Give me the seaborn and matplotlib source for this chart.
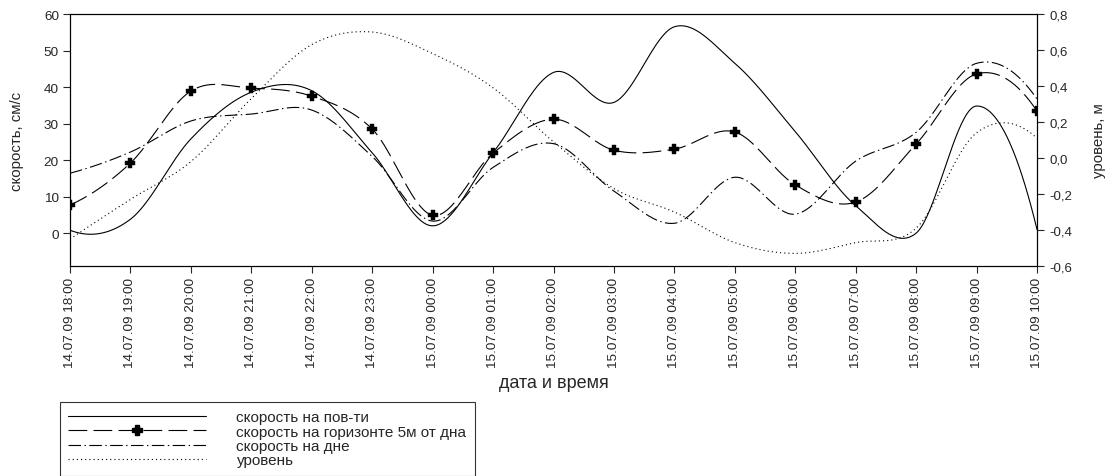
import numpy as np
import matplotlib
matplotlib.use("Agg")
import matplotlib.pyplot as plt
import seaborn as sns
from matplotlib.lines import Line2D
from matplotlib.ticker import FuncFormatter, FixedLocator

# ---------------- data ----------------
time_labels = ["14.07.09 18:00", "14.07.09 19:00", "14.07.09 20:00", "14.07.09 21:00",
               "14.07.09 22:00", "14.07.09 23:00", "15.07.09 00:00", "15.07.09 01:00",
               "15.07.09 02:00", "15.07.09 03:00", "15.07.09 04:00", "15.07.09 05:00",
               "15.07.09 06:00", "15.07.09 07:00", "15.07.09 08:00", "15.07.09 09:00",
               "15.07.09 10:00"]
speed_surface = [0.8, 3.8, 25.8, 38.6, 39.0, 22.0, 2.0, 22.0, 44.0, 35.8, 56.5, 46.5,
                 27.8, 7.5, 0.0, 34.8, 1.0]
speed_5m = [7.7, 19.2, 38.9, 39.7, 37.5, 28.5, 4.9, 21.9, 31.2, 22.7, 23.0, 27.7,
            13.2, 8.5, 24.4, 43.6, 33.4]
speed_bottom = [16.4, 22.2, 30.7, 32.6, 33.7, 21.0, 3.3, 18.0, 24.5, 11.5, 2.7, 15.3,
                5.2, 19.7, 27.6, 46.5, 36.7]
level = [-0.45, -0.23, -0.02, 0.33, 0.63, 0.70, 0.58, 0.39, 0.09, -0.17, -0.30, -0.47,
         -0.53, -0.47, -0.39, 0.14, 0.11]
legend_labels = ["скорость на пов-ти", "скорость на горизонте 5м от дна",
                 "скорость на дне", "уровень"]


def smooth(y, n=40):
    """Cubic Hermite (Catmull-Rom) rendering of a smoothed line through the points."""
    y = np.asarray(y, float)
    N = len(y)
    m = np.empty(N)
    m[1:-1] = (y[2:] - y[:-2]) / 2
    m[0] = (-3 * y[0] + 4 * y[1] - y[2]) / 2
    m[-1] = (3 * y[-1] - 4 * y[-2] + y[-3]) / 2
    t = np.linspace(0, 1, n, endpoint=False)
    h00 = 2 * t**3 - 3 * t**2 + 1
    h10 = t**3 - 2 * t**2 + t
    h01 = -2 * t**3 + 3 * t**2
    h11 = t**3 - t**2
    xs, ys = [], []
    for i in range(N - 1):
        xs.append(i + t)
        ys.append(h00 * y[i] + h10 * m[i] + h01 * y[i + 1] + h11 * m[i + 1])
    xs.append(np.array([N - 1.0]))
    ys.append(np.array([y[-1]]))
    return np.concatenate(xs), np.concatenate(ys)


sns.set_style("white")
plt.rcParams["font.family"] = ["Liberation Sans", "DejaVu Sans"]
plt.rcParams["lines.scale_dashes"] = False

fig = plt.figure(figsize=(11.12, 4.77), dpi=100)
ax = fig.add_axes([70 / 1112, 1 - 267 / 477, (1037 - 70) / 1112, (267 - 15) / 477])
ax2 = ax.twinx()

lw = 0.8
ls_solid = "-"
ls_dash = (0, (13.5, 4.5))
ls_dashdot = (0, (9, 2.5, 1, 2.5))
ls_dot = (0, (0.8, 2.2))

x = np.arange(len(time_labels))

sx, sy = smooth(speed_surface)
sns.lineplot(x=sx, y=sy, ax=ax, color="black", linewidth=lw, linestyle=ls_solid,
             sort=False, estimator=None)
sx, sy = smooth(speed_5m)
sns.lineplot(x=sx, y=sy, ax=ax, color="black", linewidth=lw, linestyle=ls_dash,
             sort=False, estimator=None)
sns.scatterplot(x=x, y=speed_5m, ax=ax, color="black", marker="P", s=55,
                edgecolor="black", linewidth=0.3, zorder=5)
sx, sy = smooth(speed_bottom)
sns.lineplot(x=sx, y=sy, ax=ax, color="black", linewidth=lw, linestyle=ls_dashdot,
             sort=False, estimator=None)
sx, sy = smooth(level)
sns.lineplot(x=sx, y=sy, ax=ax2, color="black", linewidth=lw, linestyle=ls_dot,
             sort=False, estimator=None)

ax.set_xlim(0, len(time_labels) - 1)
ax.set_ylim(-9, 60)
ax2.set_ylim(-0.6, 0.8)

ax.set_xticks(x)
ax.set_xticklabels(time_labels, rotation=90, fontsize=9.7)
ax.set_yticks(np.arange(0, 61, 10))
ax.tick_params(axis="y", labelsize=9.7, length=5, width=0.8, direction="out", left=True, pad=3)
ax.tick_params(axis="x", length=5, width=0.8, direction="out", bottom=True, pad=3)
ax2.yaxis.set_major_locator(FixedLocator(np.round(np.arange(-0.6, 0.81, 0.2), 1)))
ax2.yaxis.set_major_formatter(FuncFormatter(lambda v, p: f"{v:.1f}".replace(".", ",").replace("-0,0", "0,0")))
ax2.tick_params(axis="y", labelsize=9.5, length=5, width=0.8, direction="out", right=True, pad=4)

for a in (ax, ax2):
    for s in a.spines.values():
        s.set_color("black")
        s.set_linewidth(0.8)

ax.set_ylabel("скорость, см/с", fontsize=10.8, labelpad=14)
ax2.set_ylabel("уровень, м", fontsize=10.8, labelpad=14)
ax.set_xlabel("дата и время", fontsize=13, labelpad=5)
ax.grid(False)
ax2.grid(False)

handles = [
    Line2D([], [], color="black", linewidth=lw, linestyle=ls_solid),
    Line2D([], [], color="black", linewidth=lw, linestyle=ls_dash, marker="P",
           markersize=7, markerfacecolor="black"),
    Line2D([], [], color="black", linewidth=lw, linestyle=ls_dashdot),
    Line2D([], [], color="black", linewidth=lw, linestyle=ls_dot),
]
leg = fig.legend(handles, legend_labels, loc="upper left",
                 bbox_to_anchor=(60 / 1112, 1 - 403 / 477), fontsize=11,
                 frameon=True, fancybox=False, shadow=False, numpoints=1,
                 handlelength=9.0, handletextpad=2.0, labelspacing=0.02,
                 borderpad=0.55, borderaxespad=0)
leg.get_frame().set_edgecolor("black")
leg.get_frame().set_linewidth(0.8)
leg.get_frame().set_facecolor("white")

fig.savefig("out.png", dpi=100)
